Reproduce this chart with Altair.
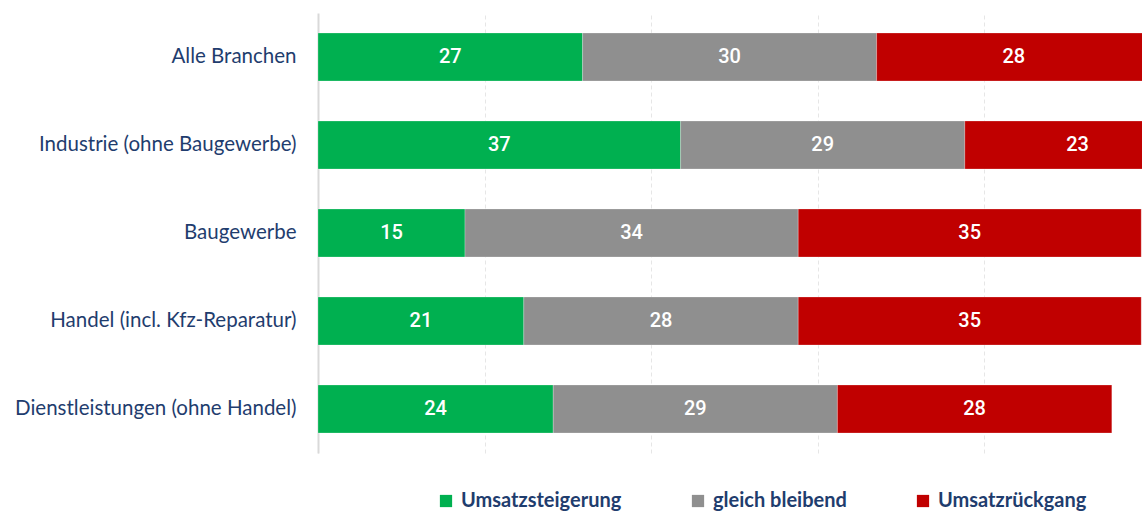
import altair as alt
import pandas as pd

categories = ["Alle Branchen", "Industrie (ohne Baugewerbe)", "Baugewerbe",
              "Handel (incl. Kfz-Reparatur)", "Dienstleistungen (ohne Handel)"]
series = ["Umsatzsteigerung", "gleich bleibend", "Umsatzrückgang"]
steigerung = [27, 37, 15, 21, 24]
gleich = [30, 29, 34, 28, 29]
rueckgang = [28, 23, 35, 35, 28]
colors = ["#00b050", "#8f8f8f", "#c00000"]

rows = []
for i, cat in enumerate(categories):
    start = 0
    for j, (s, vals) in enumerate(zip(series, [steigerung, gleich, rueckgang])):
        v = vals[i]
        rows.append({"Branche": cat, "Serie": s, "order": j, "start": start,
                     "end": start + v, "mid": start + v / 2, "wert": v})
        start += v
df = pd.DataFrame(rows)

xscale = alt.Scale(domain=[0, 84.08], nice=False, zero=True)
yscale = alt.Scale(domain=categories, paddingInner=0.4545, paddingOuter=0.2273)

bars = alt.Chart(df).mark_bar(clip=True, stroke="white", strokeWidth=0.4, strokeOpacity=0.6).encode(
    x=alt.X("start:Q", scale=xscale,
            axis=alt.Axis(title=None, labels=False, ticks=False, domain=False,
                          grid=True, values=[0, 17, 34, 51, 68], gridColor="#e6e6e6",
                          gridDash=[4, 3], gridWidth=1)),
    x2="end:Q",
    y=alt.Y("Branche:N", scale=yscale, sort=categories,
            axis=alt.Axis(title=None, ticks=False, tickSize=0, labelPadding=22,
                          domain=True, domainColor="#d9d9d9", domainWidth=2,
                          labelFont="Lato", labelFontSize=20.5, labelLimit=0,
                          labelColor="#1f3d6e", minExtent=318, maxExtent=318)),
    color=alt.Color("Serie:N", scale=alt.Scale(domain=series, range=colors),
                    legend=alt.Legend(title=None, orient="none", legendX=118, legendY=478,
                                      direction="horizontal", symbolType="square",
                                      symbolSize=150, symbolStrokeWidth=0,
                                      labelFont="Lato", labelFontWeight="bold",
                                      labelFontSize=20, labelColor="#1f3d6e", labelLimit=0,
                                      labelOffset=5, columnPadding=66)),
    order=alt.Order("order:Q"),
)

labels = alt.Chart(df).mark_text(color="white", font="Roboto", fontSize=20, fontWeight=500,
                                 baseline="middle", align="center", clip=True).encode(
    x=alt.X("mid:Q", scale=xscale),
    y=alt.Y("Branche:N", scale=yscale, sort=categories),
    text="wert:Q",
)

chart = (bars + labels).properties(
    width=824, height=440,
    padding={"left": 0, "top": 13, "right": 0, "bottom": 0},
).configure_view(stroke=None)

chart.save("out.html", embed_options={"renderer": "svg", "actions": False})
